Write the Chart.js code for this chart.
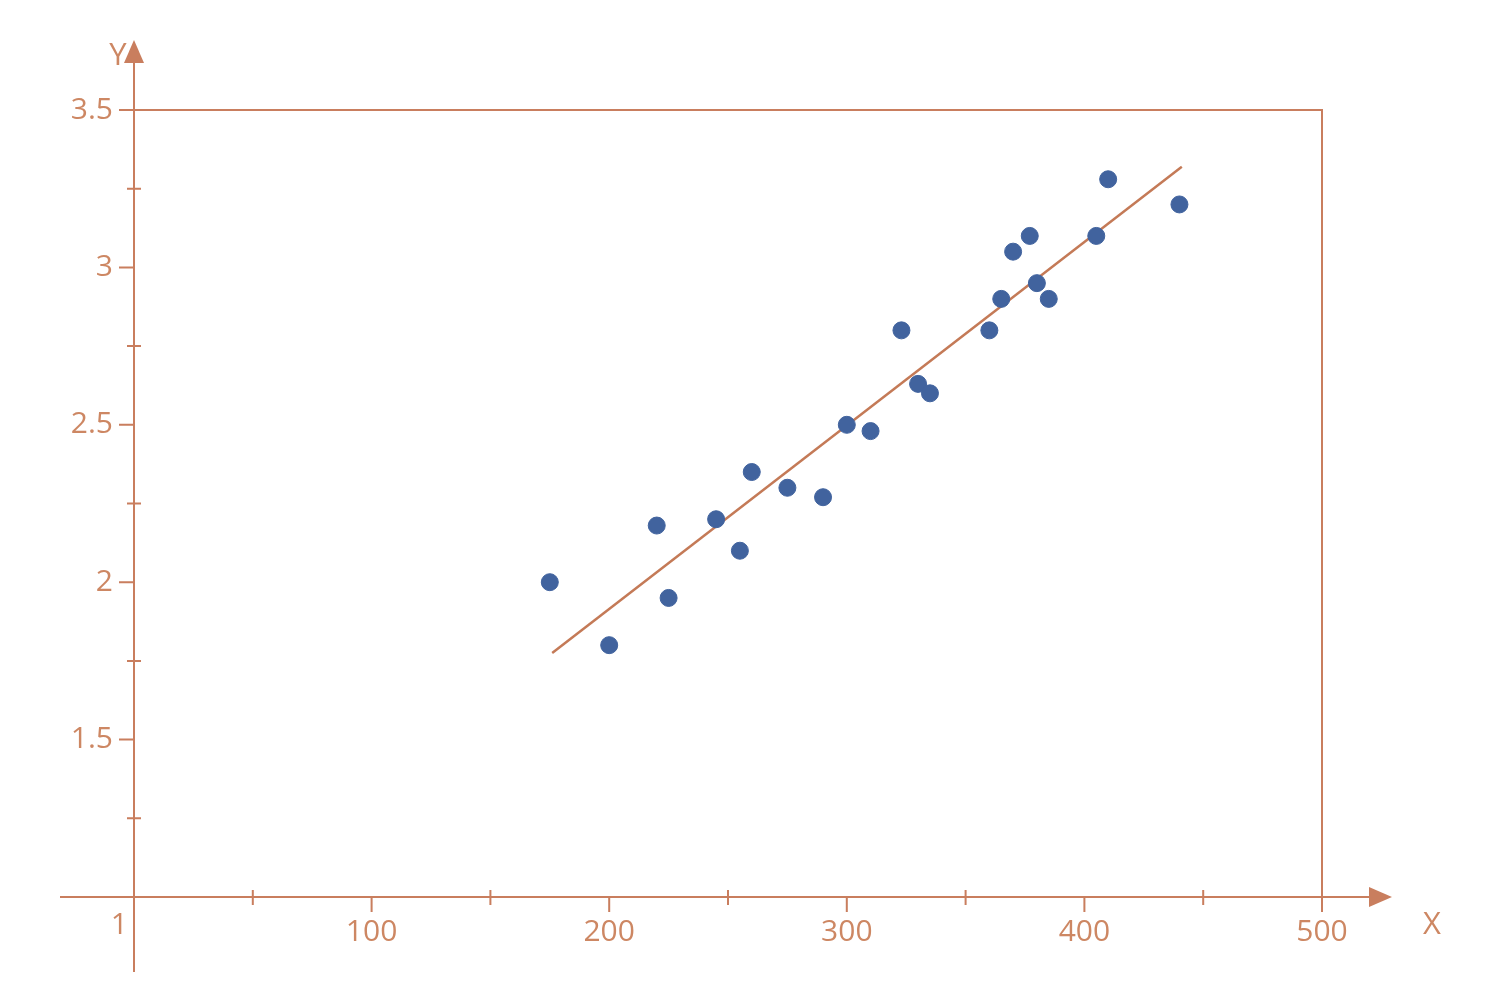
<!DOCTYPE html>
<html>
<head>
<meta charset="utf-8">
<script src="https://cdn.jsdelivr.net/npm/chart.js@4"></script>
<style>
    html, body { margin: 0; padding: 0; background: #fff; }
    #wrap { width: 1500px; height: 992px; }
</style>
</head>
<body>
<div id="wrap"><canvas id="scatter-chart"></canvas></div>
<script>
// scatter data
const xValues = [175, 200, 220, 225, 245, 255, 260, 275, 290, 300, 310, 323, 330, 335, 360, 365, 370, 377, 380, 385, 405, 410, 440];
const yValues = [2.00, 1.80, 2.18, 1.95, 2.20, 2.10, 2.35, 2.30, 2.27, 2.50, 2.48, 2.80, 2.63, 2.60, 2.80, 2.90, 3.05, 3.10, 2.95, 2.90, 3.10, 3.28, 3.20];
// regression line ends
const trendX = [176, 441];
const trendY = [1.775, 3.32];

const axisColor = '#c97e5e';
const textColor = '#cd8763';
const fontFamily = '"Open Sans", sans-serif';

// axes, ticks, frame and arrows drawn on top of the chart scales
const axesPlugin = {
    id: 'axesPlugin',
    afterDraw(chart) {
        const c = chart.ctx;
        const xs = chart.scales.x;
        const ys = chart.scales.y;
        const x0 = xs.getPixelForValue(xs.min);
        const x1 = xs.getPixelForValue(xs.max);
        const y0 = ys.getPixelForValue(ys.min);
        const y1 = ys.getPixelForValue(ys.max);

        c.save();
        c.strokeStyle = axisColor;
        c.fillStyle = axisColor;
        c.lineWidth = 2;
        c.beginPath();
        // x axis
        c.moveTo(x0 - 74, y0);
        c.lineTo(x1 + 52, y0);
        // y axis
        c.moveTo(x0, y0 + 75);
        c.lineTo(x0, y1 - 50);
        // frame top and right
        c.moveTo(x0 - 15, y1);
        c.lineTo(x1, y1);
        c.lineTo(x1, y0 + 15);

        xs.ticks.forEach(t => {
            if (t.value === xs.min) return;
            const px = xs.getPixelForValue(t.value);
            if (t.value % 100 === 0) {
                c.moveTo(px, y0);
                c.lineTo(px, y0 + 15);
            } else {
                c.moveTo(px, y0 - 7);
                c.lineTo(px, y0 + 8);
            }
        });
        ys.ticks.forEach(t => {
            if (t.value === ys.min) return;
            const py = ys.getPixelForValue(t.value);
            if (t.value % 0.5 === 0) {
                c.moveTo(x0 - 15, py);
                c.lineTo(x0, py);
            } else {
                c.moveTo(x0 - 7, py);
                c.lineTo(x0 + 7, py);
            }
        });
        c.stroke();

        // arrow heads
        c.beginPath();
        c.moveTo(x1 + 70, y0);
        c.lineTo(x1 + 47, y0 - 10);
        c.lineTo(x1 + 47, y0 + 10);
        c.closePath();
        c.fill();
        c.beginPath();
        c.moveTo(x0, y1 - 70);
        c.lineTo(x0 - 10, y1 - 47);
        c.lineTo(x0 + 10, y1 - 47);
        c.closePath();
        c.fill();

        // axis names and the corner label
        c.fillStyle = textColor;
        c.font = '31px ' + fontFamily;
        c.textBaseline = 'middle';
        c.textAlign = 'center';
        c.fillText('X', x1 + 110, y0 + 28);
        c.fillText('Y', x0 - 16, y1 - 54);
        c.font = '30px ' + fontFamily;
        c.textAlign = 'right';
        c.fillText(String(ys.min), x0 - 6, y0 + 28);
        c.restore();
    }
};

const ctx = document.getElementById('scatter-chart');

const myChart = new Chart(ctx, {
    type: 'scatter',
    data: {
        datasets: [{
            label: 'Data',
            data: xValues.map((x, i) => ({ x: x, y: yValues[i] })),
            backgroundColor: '#41639e',
            borderColor: '#41639e',
            pointRadius: 8.5,
            pointHoverRadius: 8.5
        }, {
            type: 'line',
            label: 'Trend',
            data: trendX.map((x, i) => ({ x: x, y: trendY[i] })),
            borderColor: '#c47a57',
            borderWidth: 2.5,
            pointRadius: 0,
            fill: false
        }]
    },
    options: {
        responsive: true,
        maintainAspectRatio: false,
        animation: false,
        layout: {
            padding: { top: 110, right: 178, left: 0, bottom: 0 }
        },
        plugins: {
            legend: { display: false },
            tooltip: { enabled: false }
        },
        scales: {
            x: {
                type: 'linear',
                min: 0,
                max: 500,
                grid: { display: false, drawTicks: false },
                border: { display: false },
                ticks: {
                    stepSize: 50,
                    padding: 17,
                    color: textColor,
                    font: { size: 30, family: fontFamily },
                    maxRotation: 0,
                    autoSkip: false,
                    callback: v => (v % 100 === 0 && v !== 0) ? String(v) : ''
                },
                afterFit: s => { s.height = 95; }
            },
            y: {
                type: 'linear',
                min: 1,
                max: 3.5,
                grid: { display: false, drawTicks: false },
                border: { display: false },
                ticks: {
                    stepSize: 0.25,
                    padding: 21,
                    color: textColor,
                    font: { size: 30, family: fontFamily },
                    autoSkip: false,
                    callback: v => (v % 0.5 === 0 && v !== 1) ? String(v) : ''
                },
                afterFit: s => { s.width = 134; }
            }
        }
    },
    plugins: [axesPlugin]
});
</script>
</body>
</html>
